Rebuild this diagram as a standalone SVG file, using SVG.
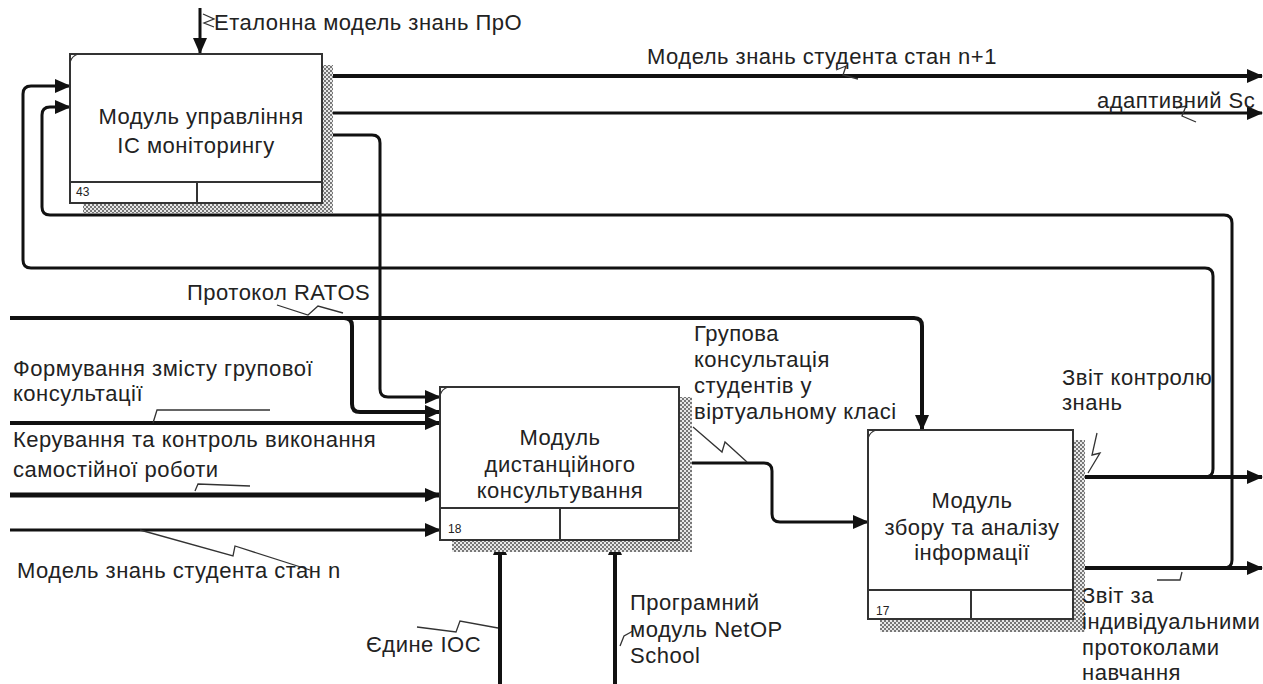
<svg xmlns="http://www.w3.org/2000/svg" width="1263" height="684" viewBox="0 0 1263 684">
<defs>
<style>
text{font-family:"Liberation Sans",Arial,sans-serif;fill:#222;font-size:22px;letter-spacing:0.5px}
.c{text-anchor:middle}
.num{font-size:12px;letter-spacing:0}
.box{fill:#fff;stroke:#333;stroke-width:2}
.div{stroke:#333;stroke-width:2;fill:none}
.sh{fill:url(#hatch)}
.w3{stroke:#111;stroke-width:3;fill:none}
.w4{stroke:#111;stroke-width:4;fill:none}
.w5{stroke:#111;stroke-width:5;fill:none}
.ld{stroke:#333;stroke-width:1.3;fill:none}
.arr{marker-end:url(#ah)}
</style>
<pattern id="hatch" width="4" height="4" patternUnits="userSpaceOnUse">
<rect width="4" height="4" fill="#e8e8e8"/>
<rect width="2" height="2" fill="#777"/>
<rect x="2" y="2" width="2" height="2" fill="#777"/>
</pattern>
<marker id="ah" markerUnits="userSpaceOnUse" markerWidth="16" markerHeight="14" refX="15" refY="7" orient="auto">
<path d="M0,0 L16,7 L0,14 z" fill="#111"/>
</marker>
</defs>
<rect width="1263" height="684" fill="#fff"/>

<g id="connectors">
<path class="w3 arr" d="M200,8 L200,53"/>
<path class="w4 arr" d="M322,76 L1262,76"/>
<path class="w3 arr" d="M322,113 L1262,113"/>
<path class="w3 arr" d="M322,135 L372,135 Q380,135 380,143 L380,389 Q380,397 388,397 L440,397"/>
<path class="w4 arr" d="M10,318 L914,318 Q922,318 922,326 L922,430"/>
<path class="w4 arr" d="M344,318 Q352,318 352,326 L352,404 Q352,412 360,412 L440,412"/>
<path class="w4 arr" d="M10,423 L440,423"/>
<path class="w5 arr" d="M10,495 L440,495"/>
<path class="w3 arr" d="M10,530 L440,530"/>
<path class="w3 arr" d="M679,463 L764,463 Q772,463 772,471 L772,514 Q772,522 780,522 L868,522"/>
<path class="w4 arr" d="M500,684 L500,540"/>
<path class="w4 arr" d="M615,684 L615,540"/>
<path class="w4 arr" d="M1073,477 L1262,477"/>
<path class="w3 arr" d="M1205,477 Q1213,477 1213,469 L1213,276 Q1213,268 1205,268 L31,268 Q23,268 23,260 L23,94 Q23,86 31,86 L70,86"/>
<path class="w4 arr" d="M1073,568 L1262,568"/>
<path class="w3 arr" d="M1224,568 Q1232,568 1232,560 L1232,223 Q1232,215 1224,215 L50,215 Q42,215 42,207 L42,115 Q42,107 50,107 L70,107"/>
<!-- label leaders -->
<path class="ld" d="M203,14 L214,19 L204,23 L214,27"/>
<path class="ld" d="M836,70 L846,66 L843,75 L858,79"/>
<path class="ld" d="M1176,108 L1186,106 L1182,116 L1196,122"/>
<path class="ld" d="M277,305 L308,315 L318,306 L343,313"/>
<path class="ld" d="M153,423 L157,410 L270,410"/>
<path class="ld" d="M195,491 L198,484 L250,486"/>
<path class="ld" d="M140,530 L233,556 L235,546 L310,570"/>
<path class="ld" d="M693,427 L722,452 L725,442 L747,462"/>
<path class="ld" d="M1097,433 L1092,455 L1100,453 L1088,473"/>
<path class="ld" d="M1157,580 L1180,580 L1182,572"/>
<path class="ld" d="M417,627 L456,632 L460,621 L498,628"/>
<path class="ld" d="M620,646 L624,636 L633,631"/>
</g>

<g id="node-43">
<rect class="sh" x="322" y="65" width="11" height="148"/>
<rect class="sh" x="83" y="203" width="250" height="10"/>
<rect class="box" x="70" y="54" width="252" height="149"/>
<path class="div" d="M70,182 L322,182 M197,182 L197,203"/>
<path class="ld" d="M70,62 Q72,56 78,54"/>
<text class="c" x="201" y="124">Модуль управління</text>
<text class="c" x="196" y="153">ІС моніторингу</text>
<text class="num" x="76" y="196">43</text>
</g>

<g id="node-18">
<rect class="sh" x="679" y="397" width="13" height="155"/>
<rect class="sh" x="452" y="540" width="240" height="12"/>
<rect class="box" x="440" y="387" width="239" height="153"/>
<path class="div" d="M440,508 L679,508 M560,508 L560,540"/>
<path class="ld" d="M440,395 Q442,389 448,387"/>
<text class="c" x="560" y="445">Модуль</text>
<text class="c" x="560" y="472">дистанційного</text>
<text class="c" x="560" y="498">консультування</text>
<text class="num" x="448" y="533">18</text>
</g>

<g id="node-17">
<rect class="sh" x="1073" y="440" width="12" height="192"/>
<rect class="sh" x="880" y="619" width="205" height="13"/>
<rect class="box" x="868" y="430" width="205" height="189"/>
<path class="div" d="M868,590 L1073,590 M971,590 L971,619"/>
<path class="ld" d="M868,438 Q870,432 876,430"/>
<text class="c" x="972" y="508">Модуль</text>
<text class="c" x="972" y="535">збору та аналізу</text>
<text class="c" x="972" y="560">інформації</text>
<text class="num" x="876" y="615">17</text>
</g>

<g id="labels">
<text x="214" y="30">Еталонна модель знань ПрО</text>
<text x="647" y="64">Модель знань студента стан n+1</text>
<text x="1097" y="108">адаптивний Sc</text>
<text x="187" y="300">Протокол RATOS</text>
<text x="13" y="376">Формування змісту групової</text>
<text x="13" y="401">консультації</text>
<text x="13" y="447">Керування та контроль виконання</text>
<text x="13" y="477">самостійної роботи</text>
<text x="17" y="578">Модель знань студента стан n</text>
<text x="694" y="341">Групова</text>
<text x="694" y="367">консультація</text>
<text x="694" y="393">студентів у</text>
<text x="694" y="419">віртуальному класі</text>
<text x="1062" y="385">Звіт контролю</text>
<text x="1062" y="410">знань</text>
<text x="1082" y="603">Звіт за</text>
<text x="1082" y="629">індивідуальними</text>
<text x="1082" y="655">протоколами</text>
<text x="1082" y="680">навчання</text>
<text x="630" y="610">Програмний</text>
<text x="630" y="637">модуль NetOP</text>
<text x="630" y="663">School</text>
<text x="366" y="652">Єдине ІОС</text>
</g>
</svg>
